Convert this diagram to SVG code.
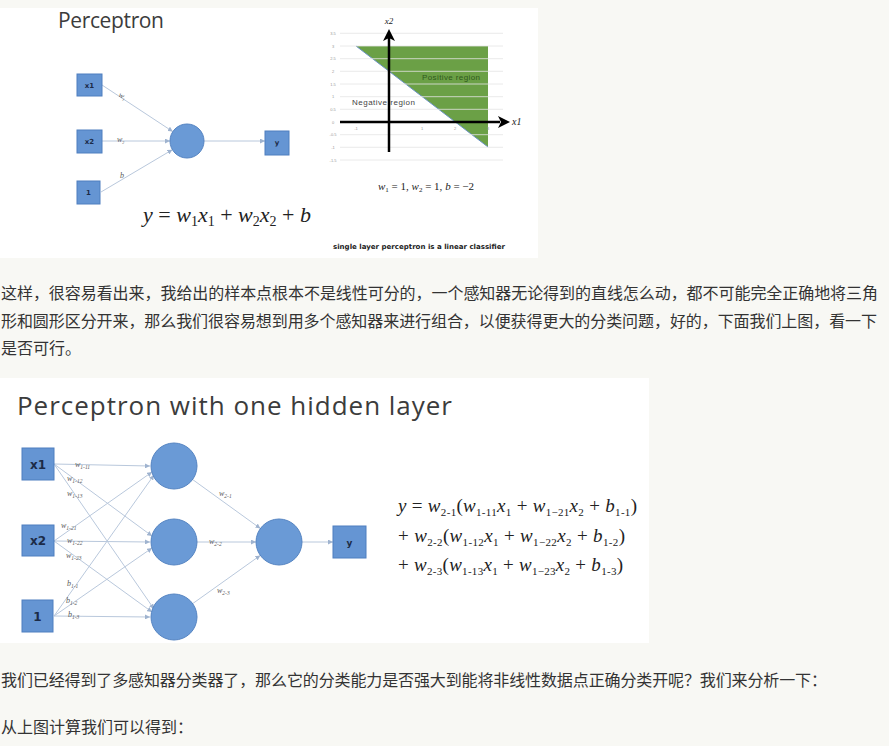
<svg xmlns="http://www.w3.org/2000/svg" width="889" height="746" viewBox="0 0 889 746">
<defs>
<style>
.bg{fill:#f8f8f4}
.img{fill:#ffffff}
.cn{font-family:"Noto Sans CJK SC","Liberation Sans",sans-serif;font-size:16px;fill:#333333}
.box{fill:#6595d3;stroke:#4f7fbf;stroke-width:1}
.node{fill:#6a9ad6;stroke:#5584c2;stroke-width:1}
.blab{font-family:"DejaVu Sans",sans-serif;font-weight:bold;fill:#1c2b47;text-anchor:middle}
.edge{stroke:#b9c8dc;stroke-width:1;fill:none}
.wl{font-family:"Liberation Serif",serif;font-style:italic;font-size:8px;fill:#5a5a5a}
.math{font-family:"Liberation Serif",serif;font-style:italic;fill:#222222}
.up{font-style:normal}
.title{font-family:"Open Sans","Noto Sans",sans-serif;fill:#3c3c3c}
.grid{stroke:#e4e4e4;stroke-width:0.8}
.tick{font-family:"Liberation Sans",sans-serif;font-size:4px;fill:#999999}
.axis{stroke:#000000;stroke-width:2.5}
</style>
<marker id="ah" viewBox="0 0 6 6" refX="6" refY="3" markerWidth="5" markerHeight="5" orient="auto">
<path d="M0,0 L6,3 L0,6 z" fill="#9fb3cf"/>
</marker>
</defs>
<rect class="bg" x="0" y="0" width="889" height="746"/>

<!-- Top image -->
<rect class="img" x="0" y="8" width="538" height="250"/>
<text class="title" x="58" y="28" font-size="21" textLength="106">Perceptron</text>

<g id="top-connectors">
<line class="edge" x1="102" y1="85" x2="172.8" y2="131.6" marker-end="url(#ah)"/>
<line class="edge" x1="102" y1="141" x2="170" y2="141" marker-end="url(#ah)"/>
<line class="edge" x1="101" y1="192" x2="172.4" y2="149.7" marker-end="url(#ah)"/>
<line class="edge" x1="204" y1="141" x2="265" y2="141" marker-end="url(#ah)"/>
<text class="wl" font-size="6" x="118" y="98" transform="rotate(30 121 97)">w<tspan font-size="4" dy="1.5">1</tspan></text>
<text class="wl" font-size="6" x="117" y="142">w<tspan font-size="4" dy="1.5">2</tspan></text>
<text class="wl" font-size="6" x="120" y="178">b</text>
</g>
<g id="p-x1"><rect class="box" x="77" y="74" width="25" height="22"/><text class="blab" x="89.5" y="88" font-size="7">x1</text></g>
<g id="p-x2"><rect class="box" x="77" y="130" width="25" height="23"/><text class="blab" x="89.5" y="144" font-size="7">x2</text></g>
<g id="p-1"><rect class="box" x="77" y="181" width="23" height="23"/><text class="blab" x="88.5" y="195" font-size="7">1</text></g>
<g id="p-sum"><circle class="node" cx="187" cy="141" r="17"/></g>
<g id="p-y"><rect class="box" x="265" y="131" width="24" height="24"/><text class="blab" x="277" y="145" font-size="7">y</text></g>

<text class="math" x="143" y="222" font-size="22">y <tspan class="up">=</tspan> w<tspan class="up" font-size="14" dy="4">1</tspan><tspan dy="-4">x</tspan><tspan class="up" font-size="14" dy="4">1</tspan><tspan class="up" dy="-4"> + </tspan>w<tspan class="up" font-size="14" dy="4">2</tspan><tspan dy="-4">x</tspan><tspan class="up" font-size="14" dy="4">2</tspan><tspan class="up" dy="-4"> + </tspan>b</text>

<!-- Graph -->
<g id="graph">
<polygon points="356,46 488,46 488,147" fill="#6ba046"/>
<line x1="356" y1="46" x2="488" y2="147" stroke="#6b93c4" stroke-width="1"/>
<g class="grid">
<line x1="340" y1="33.3" x2="503" y2="33.3"/>
<line x1="340" y1="46" x2="503" y2="46"/>
<line x1="340" y1="58.7" x2="503" y2="58.7"/>
<line x1="340" y1="71.3" x2="503" y2="71.3"/>
<line x1="340" y1="84" x2="503" y2="84"/>
<line x1="340" y1="96.7" x2="503" y2="96.7"/>
<line x1="340" y1="109.3" x2="503" y2="109.3"/>
<line x1="340" y1="134.7" x2="503" y2="134.7"/>
<line x1="340" y1="147.3" x2="503" y2="147.3"/>
<line x1="340" y1="160" x2="503" y2="160"/>
</g>
<g class="tick" text-anchor="middle">
<text x="333" y="34.8">3.5</text>
<text x="333" y="47.5">3</text>
<text x="333" y="60.2">2.5</text>
<text x="333" y="72.8">2</text>
<text x="333" y="85.5">1.5</text>
<text x="333" y="98.2">1</text>
<text x="333" y="110.8">0.5</text>
<text x="333" y="123.5">0</text>
<text x="333" y="136.2">-0.5</text>
<text x="333" y="148.8">-1</text>
<text x="333" y="161.5">-1.5</text>
<text x="356" y="130">-1</text>
<text x="422" y="130">1</text>
<text x="455" y="130">2</text>
<text x="488" y="130">3</text>
</g>
<line class="axis" x1="340" y1="122" x2="500" y2="122"/>
<path d="M510,122 L498,116 L501,122 L498,128 z" fill="#000"/>
<line class="axis" x1="389" y1="152" x2="389" y2="38"/>
<path d="M389,29 L383,41 L389,38 L395,41 z" fill="#000"/>
<text class="math" x="389" y="24" font-size="9" text-anchor="middle">x2</text>
<text class="math" x="512" y="125" font-size="10">x1</text>
<text x="422" y="80" font-family="Liberation Sans,sans-serif" font-size="8" fill="#2f5a1c" textLength="58">Positive region</text>
<text x="352" y="105" font-family="Liberation Sans,sans-serif" font-size="8" fill="#444" textLength="63">Negative region</text>
<text class="math" x="378" y="190" font-size="11">w<tspan class="up" font-size="7" dy="2">1</tspan><tspan class="up" dy="-2"> = 1, </tspan>w<tspan class="up" font-size="7" dy="2">2</tspan><tspan class="up" dy="-2"> = 1, </tspan>b<tspan class="up"> = −2</tspan></text>
<text x="333" y="249" font-family="DejaVu Sans,sans-serif" font-weight="bold" font-size="7" fill="#222" textLength="172" lengthAdjust="spacingAndGlyphs">single layer perceptron is a linear classifier</text>
</g>

<!-- Paragraph 1 -->
<text class="cn" x="1" y="299" textLength="877">这样，很容易看出来，我给出的样本点根本不是线性可分的，一个感知器无论得到的直线怎么动，都不可能完全正确地将三角</text>
<text class="cn" x="1" y="327" textLength="876">形和圆形区分开来，那么我们很容易想到用多个感知器来进行组合，以便获得更大的分类问题，好的，下面我们上图，看一下</text>
<text class="cn" x="1" y="354">是否可行。</text>

<!-- Bottom image -->
<rect class="img" x="0" y="378" width="649" height="265"/>
<text class="title" x="17" y="415" font-size="26" textLength="435">Perceptron with one hidden layer</text>

<g id="connectors">
<line class="edge" x1="54" y1="464" x2="150" y2="466" marker-end="url(#ah)"/>
<line class="edge" x1="54" y1="464" x2="152" y2="536" marker-end="url(#ah)"/>
<line class="edge" x1="54" y1="464" x2="154" y2="609" marker-end="url(#ah)"/>
<line class="edge" x1="54" y1="541" x2="152" y2="472" marker-end="url(#ah)"/>
<line class="edge" x1="54" y1="541" x2="150" y2="542" marker-end="url(#ah)"/>
<line class="edge" x1="54" y1="541" x2="152" y2="612" marker-end="url(#ah)"/>
<line class="edge" x1="54" y1="616" x2="154" y2="475" marker-end="url(#ah)"/>
<line class="edge" x1="54" y1="616" x2="152" y2="548" marker-end="url(#ah)"/>
<line class="edge" x1="54" y1="616" x2="150" y2="617" marker-end="url(#ah)"/>
<line class="edge" x1="192.6" y1="479.5" x2="260.4" y2="528.5" marker-end="url(#ah)"/>
<line class="edge" x1="197" y1="542" x2="256" y2="542" marker-end="url(#ah)"/>
<line class="edge" x1="192.7" y1="603.6" x2="260.3" y2="555.4" marker-end="url(#ah)"/>
<line class="edge" x1="302" y1="542" x2="333" y2="542" marker-end="url(#ah)"/>
<text class="wl" x="75" y="467">w<tspan font-size="5.5" dy="1.5">1-11</tspan></text>
<text class="wl" x="67" y="481">w<tspan font-size="5.5" dy="1.5">1-12</tspan></text>
<text class="wl" x="67" y="496">w<tspan font-size="5.5" dy="1.5">1-13</tspan></text>
<text class="wl" x="61" y="528">w<tspan font-size="5.5" dy="1.5">1-21</tspan></text>
<text class="wl" x="67" y="543">w<tspan font-size="5.5" dy="1.5">1-22</tspan></text>
<text class="wl" x="66" y="558">w<tspan font-size="5.5" dy="1.5">1-23</tspan></text>
<text class="wl" x="67" y="586">b<tspan font-size="5.5" dy="1.5">1-1</tspan></text>
<text class="wl" x="66" y="603">b<tspan font-size="5.5" dy="1.5">1-2</tspan></text>
<text class="wl" x="68" y="617">b<tspan font-size="5.5" dy="1.5">1-3</tspan></text>
<text class="wl" x="219" y="496">w<tspan font-size="5.5" dy="1.5">2-1</tspan></text>
<text class="wl" x="209" y="544">w<tspan font-size="5.5" dy="1.5">2-2</tspan></text>
<text class="wl" x="217" y="593">w<tspan font-size="5.5" dy="1.5">2-3</tspan></text>
</g>
<g id="in-x1"><rect class="box" x="22" y="448" width="32" height="32"/><text class="blab" x="38" y="469" font-size="12">x1</text></g>
<g id="in-x2"><rect class="box" x="22" y="525" width="32" height="31"/><text class="blab" x="38" y="545" font-size="12">x2</text></g>
<g id="in-1"><rect class="box" x="22" y="600" width="31" height="32"/><text class="blab" x="37.5" y="621" font-size="12">1</text></g>
<g id="h1"><circle class="node" cx="174" cy="466" r="23"/></g>
<g id="h2"><circle class="node" cx="174" cy="542" r="23"/></g>
<g id="h3"><circle class="node" cx="174" cy="617" r="23"/></g>
<g id="out"><circle class="node" cx="279" cy="542" r="23"/></g>
<g id="out-y"><rect class="box" x="333" y="526" width="33" height="32"/><text class="blab" x="349.5" y="546" font-size="9">y</text></g>

<g id="formula">
<text class="math" x="398" y="512" font-size="19" textLength="239">y<tspan class="up"> = </tspan>w<tspan class="up" font-size="11" dy="4">2-1</tspan><tspan class="up" dy="-4">(</tspan>w<tspan class="up" font-size="11" dy="4">1-11</tspan><tspan dy="-4">x</tspan><tspan class="up" font-size="11" dy="4">1</tspan><tspan class="up" dy="-4"> + </tspan>w<tspan class="up" font-size="11" dy="4">1−21</tspan><tspan dy="-4">x</tspan><tspan class="up" font-size="11" dy="4">2</tspan><tspan class="up" dy="-4"> + </tspan>b<tspan class="up" font-size="11" dy="4">1-1</tspan><tspan class="up" dy="-4">)</tspan></text>
<text class="math" x="398" y="542" font-size="19" textLength="227"><tspan class="up">+ </tspan>w<tspan class="up" font-size="11" dy="4">2-2</tspan><tspan class="up" dy="-4">(</tspan>w<tspan class="up" font-size="11" dy="4">1-12</tspan><tspan dy="-4">x</tspan><tspan class="up" font-size="11" dy="4">1</tspan><tspan class="up" dy="-4"> + </tspan>w<tspan class="up" font-size="11" dy="4">1−22</tspan><tspan dy="-4">x</tspan><tspan class="up" font-size="11" dy="4">2</tspan><tspan class="up" dy="-4"> + </tspan>b<tspan class="up" font-size="11" dy="4">1-2</tspan><tspan class="up" dy="-4">)</tspan></text>
<text class="math" x="398" y="571" font-size="19" textLength="225"><tspan class="up">+ </tspan>w<tspan class="up" font-size="11" dy="4">2-3</tspan><tspan class="up" dy="-4">(</tspan>w<tspan class="up" font-size="11" dy="4">1-13</tspan><tspan dy="-4">x</tspan><tspan class="up" font-size="11" dy="4">1</tspan><tspan class="up" dy="-4"> + </tspan>w<tspan class="up" font-size="11" dy="4">1−23</tspan><tspan dy="-4">x</tspan><tspan class="up" font-size="11" dy="4">2</tspan><tspan class="up" dy="-4"> + </tspan>b<tspan class="up" font-size="11" dy="4">1-3</tspan><tspan class="up" dy="-4">)</tspan></text>
</g>

<!-- Paragraph 2 -->
<text class="cn" x="1" y="686" textLength="826">我们已经得到了多感知器分类器了，那么它的分类能力是否强大到能将非线性数据点正确分类开呢？我们来分析一下：</text>
<text class="cn" x="1" y="733">从上图计算我们可以得到：</text>
</svg>
